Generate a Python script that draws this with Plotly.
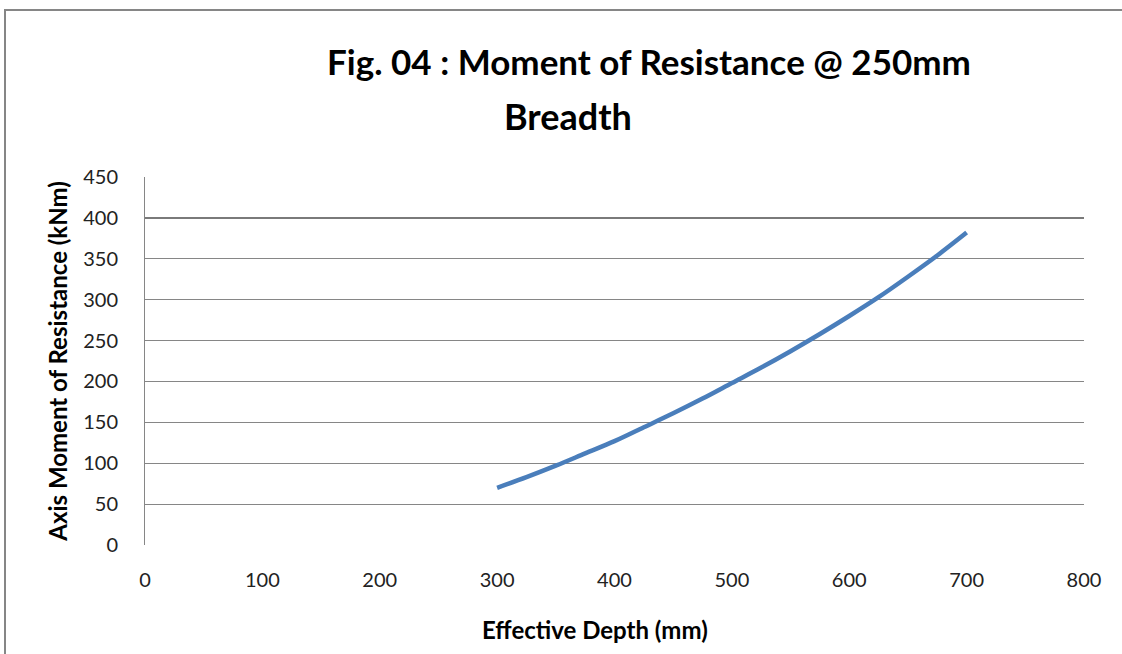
import plotly.graph_objects as go

# Data
depth_mm = [300, 325, 350, 375, 400, 425, 450, 475, 500, 525, 550, 575, 600, 625, 650, 675, 700]
moment_kNm = [70, 83, 97, 112, 127, 144, 161, 179, 198, 217, 237, 258, 280, 303, 328, 354, 382]

x_ticks = [0, 100, 200, 300, 400, 500, 600, 700, 800]
y_ticks = [0, 50, 100, 150, 200, 250, 300, 350, 400, 450]

title_line1 = "Fig. 04 : Moment of Resistance @ 250mm"
title_line2 = "Breadth"
x_title = "Effective Depth (mm)"
y_title = "Axis Moment of Resistance (kNm)"

W, H = 1122, 654
ml, mr, mt, mb = 145, 38, 177, 109
pw, ph = W - ml - mr, H - mt - mb

FONT = "Lato, sans-serif"


def px_to_paper_x(px):
    return (px - ml) / pw


def px_to_paper_y(py):
    return (H - mb - py) / ph


fig = go.Figure()
fig.add_trace(go.Scatter(
    x=depth_mm, y=moment_kNm, mode="lines",
    line=dict(color="#4a7ebb", width=4.5, shape="spline"),
    showlegend=False, hoverinfo="x+y"))

grid = "#868686"
fig.update_layout(
    width=W, height=H,
    margin=dict(l=ml, r=mr, t=mt, b=mb, autoexpand=False),
    paper_bgcolor="white", plot_bgcolor="white",
    font=dict(family=FONT, color="#000000"),
    title=dict(text="<b>" + title_line1 + "</b>", x=649 / W, xanchor="center",
               y=1 - 50 / H, yanchor="top",
               font=dict(size=35, family=FONT, color="#000000")),
    xaxis=dict(range=[0, 800], tickvals=x_ticks, showgrid=False, zeroline=False,
               showline=False, ticks="", tickfont=dict(size=20, family=FONT, color="#222"),
               ticklabelstandoff=21),
    yaxis=dict(range=[0, 450], tickvals=y_ticks, showgrid=True, gridcolor=grid, gridwidth=1,
               zeroline=False, showline=True, linecolor=grid, linewidth=1, ticks="",
               tickfont=dict(size=20, family=FONT, color="#222"),
               ticklabelstandoff=22,
               title=dict(text="<b>" + y_title + "</b>", standoff=8,
                          font=dict(size=24, family=FONT))),
)

# second title line
fig.add_annotation(text="<b>" + title_line2 + "</b>", xref="paper", yref="paper",
                   x=px_to_paper_x(568), y=px_to_paper_y(116), xanchor="center", yanchor="middle",
                   showarrow=False, font=dict(size=36, family=FONT, color="#000000"))

# x-axis title
fig.add_annotation(text="<b>" + x_title + "</b>", xref="paper", yref="paper",
                   x=px_to_paper_x(595), y=px_to_paper_y(629), xanchor="center", yanchor="middle",
                   showarrow=False, font=dict(size=24, family=FONT, color="#000000"))

# slightly heavier 400 gridline as in the reference
fig.add_shape(type="line", xref="paper", yref="y", x0=0, x1=1,
              y0=y_ticks[8], y1=y_ticks[8], line=dict(color="#7a7a7a", width=2))

# outer chart frame (top and left edges visible)
fig.add_shape(type="rect", xref="paper", yref="paper",
              x0=px_to_paper_x(5), x1=px_to_paper_x(1140),
              y0=px_to_paper_y(670), y1=px_to_paper_y(10),
              line=dict(color="#868686", width=2), layer="below")

fig.write_html("out.html", config={"displayModeBar": False},
               post_script="document.body.style.margin='0';document.body.style.overflow='hidden';")
